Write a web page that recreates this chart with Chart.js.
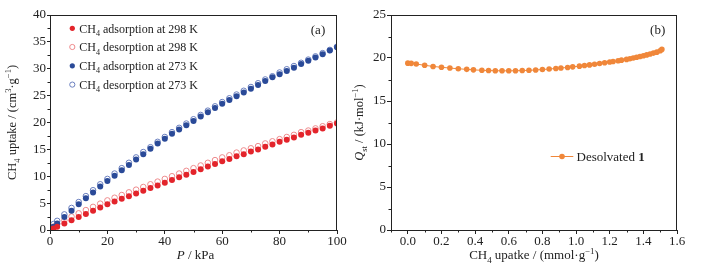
<!DOCTYPE html>
<html><head><meta charset="utf-8">
<script src="https://cdn.jsdelivr.net/npm/chart.js@4.4.1/dist/chart.umd.min.js"></script>
<style>
html,body{margin:0;padding:0;background:#fff;width:727px;height:268px;overflow:hidden}
#a{position:absolute;left:0;top:0}
#b{position:absolute;left:350px;top:0}
</style></head><body>
<canvas id="a" width="350" height="268"></canvas>
<canvas id="b" width="377" height="268"></canvas>
<script>
// ---------- data ----------
const pressureKPa = [0.3,1.2,2.5,5,7.5,10,12.5,15,17.5,20,22.5,25,27.5,30,32.5,35,37.5,40,42.5,45,47.5,50,52.5,55,57.5,60,62.5,65,67.5,70,72.5,75,77.5,80,82.5,85,87.5,90,92.5,95,97.5,100];
const ads298 = [0.1,0.3,0.6,1.2,1.8,2.4,3.0,3.6,4.2,4.8,5.3,5.8,6.3,6.8,7.3,7.8,8.3,8.8,9.3,9.8,10.3,10.8,11.3,11.8,12.3,12.8,13.2,13.7,14.1,14.6,15.0,15.5,15.9,16.4,16.8,17.2,17.7,18.1,18.5,18.9,19.4,19.8];
const des298 = [0.2,0.6,1.1,1.8,2.5,3.1,3.7,4.3,4.9,5.5,6.0,6.5,7.0,7.5,8.0,8.5,9.0,9.5,10.0,10.5,11.0,11.5,12.0,12.5,13.0,13.5,13.9,14.4,14.8,15.2,15.6,16.1,16.5,16.9,17.3,17.7,18.2,18.5,18.9,19.3,19.7,20.0];
const ads273 = [0.15,0.6,1.2,2.4,3.6,4.8,5.9,7.0,8.1,9.1,10.1,11.1,12.1,13.1,14.1,15.1,16.1,17.0,17.9,18.7,19.5,20.3,21.1,21.9,22.7,23.5,24.2,24.9,25.6,26.3,27.0,27.7,28.4,29.0,29.6,30.2,30.9,31.5,32.1,32.7,33.4,34.0];
const des273 = [0.5,1.1,1.7,2.9,4.1,5.2,6.3,7.4,8.5,9.5,10.5,11.5,12.5,13.5,14.5,15.4,16.4,17.3,18.2,19.0,19.8,20.6,21.4,22.2,23.0,23.8,24.5,25.2,25.9,26.6,27.3,28.0,28.6,29.3,29.9,30.5,31.1,31.7,32.3,32.9,33.5,34.1];
const seriesLabelsA = ["adsorption at 298 K","desorption at 298 K","adsorption at 273 K","desorption at 273 K"];

const qstUptake = [0.00,0.02,0.05,0.10,0.15,0.20,0.25,0.30,0.35,0.39,0.44,0.48,0.52,0.56,0.60,0.64,0.68,0.72,0.76,0.80,0.84,0.88,0.91,0.95,0.98,1.02,1.05,1.08,1.11,1.14,1.17,1.20,1.22,1.25,1.27,1.30,1.32,1.34,1.36,1.38,1.40,1.42,1.44,1.46,1.48,1.50,1.51];
const qstValues = [19.40,19.38,19.30,19.15,19.02,18.92,18.83,18.75,18.68,18.62,18.57,18.54,18.52,18.51,18.51,18.52,18.54,18.57,18.61,18.66,18.72,18.78,18.84,18.90,18.97,19.05,19.12,19.20,19.28,19.36,19.45,19.53,19.60,19.68,19.75,19.84,19.92,20.00,20.08,20.17,20.26,20.36,20.46,20.57,20.68,20.85,21.00];

const majorTicksBx = [0,0.2,0.4,0.6,0.8,1.0,1.2,1.4,1.6];
const minorA = {x:[10,30,50,70,90], y:[2.5,7.5,12.5,17.5,22.5,27.5,32.5,37.5]};
const minorB = {x:[-0.1,0.1,0.3,0.5,0.7,0.9,1.1,1.3,1.5], y:[2.5,7.5,12.5,17.5,22.5]};

// ---------- styles ----------
const RED='#e3242b', RED_O='#ee8a8c', BLUE='#2a4a98', BLUE_O='#6a7fbf', ORANGE='#f0873a';
const FONT='"Liberation Serif","Times New Roman",serif';
const INK='#222';

function pts(xs,ys){return xs.map((x,i)=>({x:x,y:ys[i]}));}

function fontOf(p,size){
  const s=(p.sub||p.sup)?size*0.68:size;
  return (p.it?'italic ':'')+(p.b?'bold ':'')+s+'px '+FONT;
}
function richWidth(ctx,parts,size){
  let w=0;
  for(const p of parts){ctx.font=fontOf(p,size);w+=ctx.measureText(p.t).width;}
  return w;
}
function drawRich(ctx,parts,x,y,size,align){
  const w=richWidth(ctx,parts,size);
  let cx = align==='center'? x-w/2 : x;
  ctx.textBaseline='alphabetic';ctx.textAlign='left';
  for(const p of parts){
    ctx.font=fontOf(p,size);
    let dy=0;
    if(p.sub) dy=size*0.28;
    if(p.sup) dy=-size*0.38;
    ctx.fillText(p.t,cx,y+dy);
    cx+=ctx.measureText(p.t).width;
  }
}

const decor = {
  id:'decor',
  afterDraw(chart,args,opts){
    const ctx=chart.ctx, ca=chart.chartArea;
    ctx.save();
    ctx.strokeStyle=INK;ctx.lineWidth=1;
    ctx.strokeRect(Math.round(ca.left)+0.5,Math.round(ca.top)+0.5,Math.round(ca.right-ca.left)-1,Math.round(ca.bottom-ca.top));
    const xs=chart.scales.x, ys=chart.scales.y;
    ctx.beginPath();
    for(const v of opts.minor.x){const px=Math.round(xs.getPixelForValue(v))+0.5;ctx.moveTo(px,ca.bottom);ctx.lineTo(px,ca.bottom+2.5);}
    for(const v of opts.minor.y){const py=Math.round(ys.getPixelForValue(v))+0.5;ctx.moveTo(ca.left,py);ctx.lineTo(ca.left-2.5,py);}
    ctx.stroke();
    ctx.fillStyle=INK;
    if(opts.draw) opts.draw(ctx,chart);
    ctx.restore();
  }
};

function axisCommon(extra){
  return Object.assign({
    type:'linear',
    grid:{drawOnChartArea:false,drawTicks:true,tickLength:4,color:INK,lineWidth:1},
    border:{display:true,color:INK,width:1},
    ticks:{font:{family:FONT,size:13},color:INK,padding:0,maxRotation:0,autoSkip:false}
  },extra);
}

// ---------- chart (a) ----------
new Chart(document.getElementById('a'),{
  type:'scatter',
  data:{datasets:[
    {label:seriesLabelsA[0],data:pts(pressureKPa,ads298),pointRadius:3,pointBackgroundColor:RED,pointBorderColor:RED,pointBorderWidth:0,order:0},
    {label:seriesLabelsA[1],data:pts(pressureKPa,des298),pointRadius:2.8,pointBackgroundColor:'rgba(255,255,255,0)',pointBorderColor:RED_O,pointBorderWidth:1,order:2},
    {label:seriesLabelsA[2],data:pts(pressureKPa,ads273),pointRadius:3,pointBackgroundColor:BLUE,pointBorderColor:BLUE,pointBorderWidth:0,order:1},
    {label:seriesLabelsA[3],data:pts(pressureKPa,des273),pointRadius:2.8,pointBackgroundColor:'rgba(255,255,255,0)',pointBorderColor:BLUE_O,pointBorderWidth:1,order:3}
  ]},
  options:{
    responsive:false,animation:false,
    layout:{padding:{left:0,right:13,top:15,bottom:0}},
    plugins:{legend:{display:false},tooltip:{enabled:false},
      decor:{minor:minorA,draw(ctx,chart){
        const ca=chart.chartArea;
        const rows=[28.3,47,65.8,84.6];
        const fills=[RED,null,BLUE,null], strokes=[RED,RED_O,BLUE,BLUE_O];
        rows.forEach((ry,i)=>{
          ctx.beginPath();ctx.arc(72.3,ry,2.6,0,Math.PI*2);
          if(fills[i]){ctx.fillStyle=fills[i];ctx.fill();}
          else{ctx.strokeStyle=strokes[i];ctx.lineWidth=1;ctx.stroke();}
          ctx.fillStyle=INK;
          drawRich(ctx,[{t:'CH'},{t:'4',sub:true},{t:' '+seriesLabelsA[i]}],79.3,ry+4.3,12,'left');
        });
        drawRich(ctx,[{t:'(a)'}],318,33.5,13,'center');
        drawRich(ctx,[{t:'P',it:true},{t:' / kPa'}],(ca.left+ca.right)/2+2,258.5,13,'center');
        ctx.save();ctx.translate(16,(ca.top+ca.bottom)/2);ctx.rotate(-Math.PI/2);
        drawRich(ctx,[{t:'CH'},{t:'4',sub:true},{t:' uptake / (cm'},{t:'3',sup:true},{t:'·g'},{t:'−1',sup:true},{t:')'}],0,0,12.5,'center');
        ctx.restore();
      }}},
    scales:{
      x:axisCommon({min:0,max:100,ticks:{stepSize:20,font:{family:FONT,size:13},color:INK,padding:0,maxRotation:0},afterFit(s){s.height=38;}}),
      y:axisCommon({min:0,max:40,grid:{drawOnChartArea:false,drawTicks:true,tickLength:3,color:INK},ticks:{stepSize:5,font:{family:FONT,size:13},color:INK,padding:1},afterFit(s){s.width=50;}})
    }
  },
  plugins:[decor]
});

// ---------- chart (b) ----------
new Chart(document.getElementById('b'),{
  type:'scatter',
  data:{datasets:[
    {label:'Desolvated 1',data:pts(qstUptake,qstValues),showLine:true,borderColor:ORANGE,borderWidth:1,pointRadius:2.8,pointBackgroundColor:ORANGE,pointBorderWidth:0}
  ]},
  options:{
    responsive:false,animation:false,
    layout:{padding:{left:0,right:50,top:15,bottom:0}},
    plugins:{legend:{display:false},tooltip:{enabled:false},
      decor:{minor:minorB,draw(ctx,chart){
        const ca=chart.chartArea;
        ctx.strokeStyle=ORANGE;ctx.lineWidth=1;
        ctx.beginPath();ctx.moveTo(200.7,156.5);ctx.lineTo(223.3,156.5);ctx.stroke();
        ctx.fillStyle=ORANGE;ctx.beginPath();ctx.arc(212,156.5,2.8,0,Math.PI*2);ctx.fill();
        ctx.fillStyle=INK;
        drawRich(ctx,[{t:'Desolvated '},{t:'1',b:true}],226.5,161,13,'left');
        drawRich(ctx,[{t:'(b)'}],307.7,33.5,13,'center');
        drawRich(ctx,[{t:'CH'},{t:'4',sub:true},{t:' upatke / (mmol·g'},{t:'−1',sup:true},{t:')'}],(ca.left+ca.right)/2,259,13,'center');
        ctx.save();ctx.translate(13,(ca.top+ca.bottom)/2);ctx.rotate(-Math.PI/2);
        drawRich(ctx,[{t:'Q',it:true},{t:'st',sub:true},{t:' / (kJ·mol'},{t:'−1',sup:true},{t:')'}],0,0,12.5,'center');
        ctx.restore();
      }}},
    scales:{
      x:axisCommon({min:-0.1,max:1.6,
        ticks:{font:{family:FONT,size:13},color:INK,padding:0,maxRotation:0,autoSkip:false,callback:v=>Number(v).toFixed(1)},
        afterBuildTicks(s){s.ticks=majorTicksBx.map(v=>({value:v}));},
        afterFit(s){s.height=38;}}),
      y:axisCommon({min:0,max:25,ticks:{stepSize:5,font:{family:FONT,size:13},color:INK,padding:1},afterFit(s){s.width=41;}})
    }
  },
  plugins:[decor]
});
</script>
</body></html>
